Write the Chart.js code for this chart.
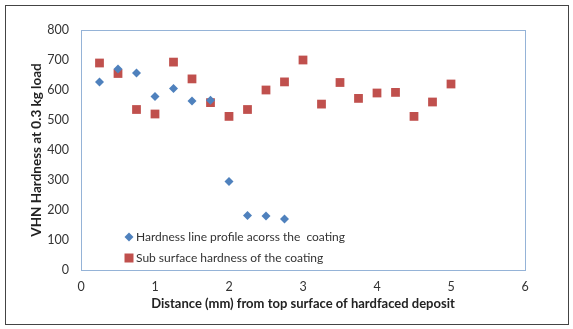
<!DOCTYPE html>
<html>
<head>
<meta charset="utf-8">
<script src="https://cdn.jsdelivr.net/npm/chart.js@4.4.0/dist/chart.umd.min.js"></script>
<style>
  html, body { margin: 0; padding: 0; background: #fff; }
  #wrap { position: relative; width: 573px; height: 329px; }
</style>
</head>
<body>
<div id="wrap"><canvas id="main-chart"></canvas></div>
<script>
// distances in mm
const lineX = [0.25, 0.5, 0.75, 1.0, 1.25, 1.5, 1.75, 2.0, 2.25, 2.5, 2.75];
const lineHardness = [627, 670, 657, 578, 605, 563, 566, 295, 182, 180, 170];

const subX = [0.25, 0.5, 0.75, 1.0, 1.25, 1.5, 1.75, 2.0, 2.25, 2.5, 2.75, 3.0, 3.25, 3.5, 3.75, 4.0, 4.25, 4.5, 4.75, 5.0];
const subHardness = [690, 655, 535, 520, 693, 637, 558, 512, 535, 600, 627, 700, 553, 625, 572, 590, 592, 512, 560, 620];

const seriesNames = ["Hardness line profile acorss the  coating", "Sub surface hardness of the coating"];
const xTitle = "Distance (mm) from top surface of hardfaced deposit";
const yTitle = "VHN Hardness at 0.3 kg load";

const toPoints = (xs, ys) => xs.map((x, i) => ({x: x, y: ys[i]}));

const FONT = "Lato, 'Open Sans', sans-serif";

// frame round the chart + box round the plot area
const framePlugin = {
  id: 'frame',
  beforeDraw: chart => {
    const ctx = chart.ctx;
    ctx.save();
    ctx.strokeStyle = '#444';
    ctx.lineWidth = 1;
    ctx.strokeRect(5.5, 5.5, 563, 319);
    ctx.restore();
  },
  afterDraw: chart => {
    const {ctx, chartArea: a} = chart;
    ctx.save();
    ctx.strokeStyle = '#95B3D7';
    ctx.lineWidth = 1;
    ctx.strokeRect(Math.round(a.left) + 0.5, Math.round(a.top) + 0.5, Math.round(a.right - a.left), Math.round(a.bottom - a.top));
    // legend inside the plot
    chart.data.datasets.forEach((ds, i) => {
      const y = 237 + i * 21;
      ctx.fillStyle = ds.backgroundColor;
      ctx.beginPath();
      if (ds.pointStyle === 'rectRot') {
        ctx.moveTo(129, y - 4.5); ctx.lineTo(133.5, y); ctx.lineTo(129, y + 4.5); ctx.lineTo(124.5, y);
      } else {
        ctx.rect(124.5, y - 4.5, 9, 9);
      }
      ctx.fill();
      ctx.fillStyle = '#333';
      ctx.font = '12px ' + FONT;
      ctx.textBaseline = 'middle';
      ctx.fillText(seriesNames[i], 136, y);
    });
    ctx.restore();
  }
};

const config = {
  type: 'scatter',
  data: {
    datasets: [{
      label: seriesNames[0],
      data: toPoints(lineX, lineHardness),
      pointStyle: 'rectRot',
      radius: 4.5,
      hoverRadius: 4.5,
      backgroundColor: '#4F81BD',
      borderColor: '#4F81BD',
      borderWidth: 0
    }, {
      label: seriesNames[1],
      data: toPoints(subX, subHardness),
      pointStyle: 'rect',
      radius: 6.2,
      hoverRadius: 6.2,
      backgroundColor: '#C0504D',
      borderColor: '#C0504D',
      borderWidth: 0
    }]
  },
  options: {
    responsive: false,
    animation: false,
    layout: { padding: { left: 29, right: 48, top: 30, bottom: 17 } },
    plugins: { legend: { display: false }, tooltip: { enabled: false } },
    scales: {
      x: {
        type: 'linear',
        min: 0, max: 6,
        grid: { display: false, drawTicks: false },
        border: { display: false },
        ticks: { stepSize: 1, padding: 9, color: '#333', font: { family: FONT, size: 12.5 } },
        title: { display: true, text: xTitle, color: '#222', padding: { top: 4, bottom: 0 }, font: { family: FONT, size: 13, weight: 'bold' } },
        afterFit: s => { s.height = 42; }
      },
      y: {
        min: 0, max: 800,
        grid: { display: false, drawTicks: false },
        border: { display: false },
        ticks: { stepSize: 100, padding: 12, color: '#333', font: { family: FONT, size: 12.5 } },
        title: { display: true, text: yTitle, color: '#222', padding: 0, font: { family: FONT, size: 13.5, weight: 'bold' } },
        afterFit: s => { s.width = 52; }
      }
    }
  },
  plugins: [framePlugin]
};

const cv = document.getElementById('main-chart');
cv.width = 573; cv.height = 329;
const myChart = new Chart(cv, config);
</script>
</body>
</html>
